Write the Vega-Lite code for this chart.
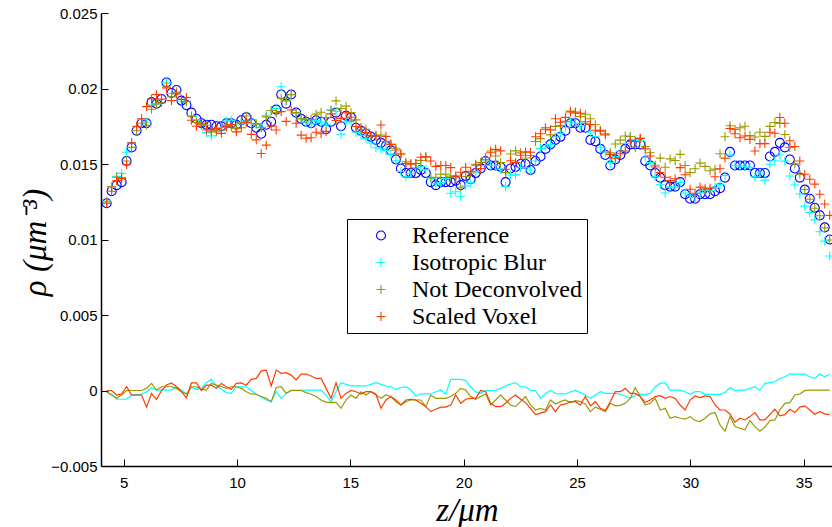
{
  "$schema": "https://vega.github.io/schema/vega-lite/v6.json",
  "width": 731,
  "height": 453,
  "autosize": {"type": "none"},
  "padding": {"left": 101, "top": 13, "right": 0, "bottom": 61},
  "background": "white",
  "config": {
    "view": {"stroke": null},
    "axis": {
      "grid": false,
      "domainColor": "black",
      "domainWidth": 1.5,
      "tickColor": "black",
      "tickWidth": 1,
      "tickSize": -7,
      "labelFont": "Liberation Sans",
      "labelFontSize": 15,
      "labelColor": "black",
      "titleFont": "Liberation Serif",
      "titleFontSize": 33,
      "titleFontStyle": "italic",
      "titleFontWeight": "normal",
      "titleColor": "black"
    },
    "legend": {
      "labelFont": "Liberation Serif",
      "labelFontSize": 24,
      "labelColor": "black",
      "labelLimit": 400,
      "padding": 4.5,
      "rowPadding": 3,
      "strokeColor": "black",
      "fillColor": "white",
      "symbolSize": 81,
      "symbolStrokeWidth": 1.1,
      "symbolOffset": 17.5,
      "labelOffset": 19
    }
  },
  "data": {"values": [
    {"z":4.25,"ref":0.0124,"iso":0.01254,"nd":0.01248,"sv":0.0124,"dIso":-0.00014,"dNd":-0.00008,"dSv":0},
    {"z":4.47,"ref":0.0132,"iso":0.01345,"nd":0.0135,"sv":0.0132,"dIso":-0.00025,"dNd":-0.0003,"dSv":0},
    {"z":4.69,"ref":0.0136,"iso":0.01418,"nd":0.01412,"sv":0.0139,"dIso":-0.00058,"dNd":-0.00052,"dSv":-0.0003},
    {"z":4.91,"ref":0.0138,"iso":0.01438,"nd":0.0141,"sv":0.01403,"dIso":-0.00058,"dNd":-0.0003,"dSv":-0.00023},
    {"z":5.13,"ref":0.0152,"iso":0.01578,"nd":0.0152,"sv":0.01495,"dIso":-0.00058,"dNd":0,"dSv":0.00025},
    {"z":5.35,"ref":0.0161,"iso":0.0164,"nd":0.0161,"sv":0.0164,"dIso":-0.0003,"dNd":0,"dSv":-0.0003},
    {"z":5.57,"ref":0.0172,"iso":0.01745,"nd":0.0172,"sv":0.0175,"dIso":-0.00025,"dNd":0,"dSv":-0.0003},
    {"z":5.79,"ref":0.0177,"iso":0.01795,"nd":0.0177,"sv":0.018,"dIso":-0.00025,"dNd":0,"dSv":-0.0003},
    {"z":6.01,"ref":0.0177,"iso":0.01778,"nd":0.01756,"sv":0.0188,"dIso":-0.00008,"dNd":0.00014,"dSv":-0.0011},
    {"z":6.23,"ref":0.0191,"iso":0.0189,"nd":0.01863,"sv":0.0193,"dIso":0.0002,"dNd":0.00047,"dSv":-0.0002},
    {"z":6.45,"ref":0.019,"iso":0.01897,"nd":0.01897,"sv":0.0196,"dIso":0.00003,"dNd":0.00003,"dSv":-0.0006},
    {"z":6.67,"ref":0.0193,"iso":0.01927,"nd":0.01905,"sv":0.0193,"dIso":0.00003,"dNd":0.00025,"dSv":0},
    {"z":6.89,"ref":0.0204,"iso":0.02037,"nd":0.02015,"sv":0.02004,"dIso":0.00003,"dNd":0.00025,"dSv":0.00036},
    {"z":7.11,"ref":0.0197,"iso":0.01967,"nd":0.01945,"sv":0.0192,"dIso":0.00003,"dNd":0.00025,"dSv":0.0005},
    {"z":7.33,"ref":0.0199,"iso":0.01965,"nd":0.01976,"sv":0.01965,"dIso":0.00025,"dNd":0.00014,"dSv":0.00025},
    {"z":7.55,"ref":0.0192,"iso":0.01917,"nd":0.01928,"sv":0.01928,"dIso":0.00003,"dNd":-0.00008,"dSv":-0.00008},
    {"z":7.77,"ref":0.0189,"iso":0.01913,"nd":0.01913,"sv":0.0194,"dIso":-0.00023,"dNd":-0.00023,"dSv":-0.0005},
    {"z":7.99,"ref":0.0184,"iso":0.0182,"nd":0.01815,"sv":0.0179,"dIso":0.0002,"dNd":0.00025,"dSv":0.0005},
    {"z":8.21,"ref":0.018,"iso":0.01792,"nd":0.01775,"sv":0.0175,"dIso":0.00008,"dNd":0.00025,"dSv":0.0005},
    {"z":8.43,"ref":0.0177,"iso":0.01756,"nd":0.01762,"sv":0.0177,"dIso":0.00014,"dNd":0.00008,"dSv":0},
    {"z":8.65,"ref":0.0176,"iso":0.01708,"nd":0.01757,"sv":0.01725,"dIso":0.00052,"dNd":0.00003,"dSv":0.00035},
    {"z":8.87,"ref":0.0176,"iso":0.01686,"nd":0.01713,"sv":0.01725,"dIso":0.00074,"dNd":0.00047,"dSv":0.00035},
    {"z":9.09,"ref":0.0175,"iso":0.0172,"nd":0.01714,"sv":0.01735,"dIso":0.0003,"dNd":0.00036,"dSv":0.00015},
    {"z":9.31,"ref":0.0175,"iso":0.01742,"nd":0.01725,"sv":0.01703,"dIso":0.00008,"dNd":0.00025,"dSv":0.00047},
    {"z":9.53,"ref":0.0177,"iso":0.01784,"nd":0.01756,"sv":0.01745,"dIso":-0.00014,"dNd":0.00014,"dSv":0.00025},
    {"z":9.75,"ref":0.0177,"iso":0.01789,"nd":0.01745,"sv":0.01762,"dIso":-0.00019,"dNd":0.00025,"dSv":0.00008},
    {"z":9.97,"ref":0.0176,"iso":0.01735,"nd":0.01735,"sv":0.01713,"dIso":0.00025,"dNd":0.00025,"dSv":0.00047},
    {"z":10.19,"ref":0.0179,"iso":0.01765,"nd":0.01776,"sv":0.0174,"dIso":0.00025,"dNd":0.00014,"dSv":0.0005},
    {"z":10.41,"ref":0.0181,"iso":0.01785,"nd":0.01818,"sv":0.01775,"dIso":0.00025,"dNd":-0.00008,"dSv":0.00035},
    {"z":10.63,"ref":0.0177,"iso":0.0177,"nd":0.01793,"sv":0.01696,"dIso":0,"dNd":-0.00023,"dSv":0.00074},
    {"z":10.85,"ref":0.0174,"iso":0.01765,"nd":0.01765,"sv":0.0166,"dIso":-0.00025,"dNd":-0.00025,"dSv":0.0008},
    {"z":11.07,"ref":0.017,"iso":0.01745,"nd":0.0174,"sv":0.0157,"dIso":-0.00045,"dNd":-0.0004,"dSv":0.0013},
    {"z":11.29,"ref":0.0176,"iso":0.01823,"nd":0.01812,"sv":0.01625,"dIso":-0.00063,"dNd":-0.00052,"dSv":0.00135},
    {"z":11.51,"ref":0.0178,"iso":0.01854,"nd":0.01854,"sv":0.0175,"dIso":-0.00074,"dNd":-0.00074,"dSv":0.0003},
    {"z":11.73,"ref":0.0186,"iso":0.01868,"nd":0.0184,"sv":0.01725,"dIso":-0.00008,"dNd":0.0002,"dSv":0.00135},
    {"z":11.95,"ref":0.0196,"iso":0.02012,"nd":0.01935,"sv":0.01847,"dIso":-0.00052,"dNd":0.00025,"dSv":0.00113},
    {"z":12.17,"ref":0.019,"iso":0.01919,"nd":0.01919,"sv":0.01782,"dIso":-0.00019,"dNd":-0.00019,"dSv":0.00118},
    {"z":12.39,"ref":0.0196,"iso":0.01957,"nd":0.0196,"sv":0.01858,"dIso":0.00003,"dNd":0,"dSv":0.00102},
    {"z":12.61,"ref":0.0184,"iso":0.01837,"nd":0.0184,"sv":0.0177,"dIso":0.00003,"dNd":0,"dSv":0.0007},
    {"z":12.83,"ref":0.018,"iso":0.01797,"nd":0.018,"sv":0.01691,"dIso":0.00003,"dNd":0,"dSv":0.00109},
    {"z":13.05,"ref":0.0178,"iso":0.01777,"nd":0.01794,"sv":0.01671,"dIso":0.00003,"dNd":-0.00014,"dSv":0.00109},
    {"z":13.27,"ref":0.0177,"iso":0.01767,"nd":0.01795,"sv":0.01674,"dIso":0.00003,"dNd":-0.00025,"dSv":0.00096},
    {"z":13.49,"ref":0.0179,"iso":0.01787,"nd":0.0183,"sv":0.0171,"dIso":0.00003,"dNd":-0.0004,"dSv":0.0008},
    {"z":13.71,"ref":0.0178,"iso":0.01777,"nd":0.01843,"sv":0.017,"dIso":0.00003,"dNd":-0.00063,"dSv":0.0008},
    {"z":13.93,"ref":0.0173,"iso":0.0176,"nd":0.01808,"sv":0.01716,"dIso":-0.0003,"dNd":-0.00078,"dSv":0.00014},
    {"z":14.15,"ref":0.0178,"iso":0.01854,"nd":0.01858,"sv":0.01832,"dIso":-0.00074,"dNd":-0.00078,"dSv":-0.00052},
    {"z":14.37,"ref":0.0184,"iso":0.01848,"nd":0.01918,"sv":0.01788,"dIso":-0.00008,"dNd":-0.00078,"dSv":0.00052},
    {"z":14.59,"ref":0.0175,"iso":0.01698,"nd":0.01868,"sv":0.01802,"dIso":0.00052,"dNd":-0.00118,"dSv":-0.00052},
    {"z":14.81,"ref":0.0182,"iso":0.01779,"nd":0.01883,"sv":0.01839,"dIso":0.00041,"dNd":-0.00063,"dSv":-0.00019},
    {"z":15.03,"ref":0.0181,"iso":0.0178,"nd":0.0184,"sv":0.0181,"dIso":0.0003,"dNd":-0.0003,"dSv":0},
    {"z":15.25,"ref":0.0174,"iso":0.0171,"nd":0.01792,"sv":0.01748,"dIso":0.0003,"dNd":-0.00052,"dSv":-0.00008},
    {"z":15.47,"ref":0.0172,"iso":0.0169,"nd":0.01728,"sv":0.01743,"dIso":0.0003,"dNd":-0.00008,"dSv":-0.00023},
    {"z":15.69,"ref":0.017,"iso":0.0167,"nd":0.0173,"sv":0.01708,"dIso":0.0003,"dNd":-0.0003,"dSv":-0.00008},
    {"z":15.91,"ref":0.0168,"iso":0.01639,"nd":0.01688,"sv":0.01688,"dIso":0.00041,"dNd":-0.00008,"dSv":-0.00008},
    {"z":16.13,"ref":0.0166,"iso":0.01608,"nd":0.0169,"sv":0.01685,"dIso":0.00052,"dNd":-0.0003,"dSv":-0.00025},
    {"z":16.35,"ref":0.0164,"iso":0.01599,"nd":0.01692,"sv":0.01758,"dIso":0.00041,"dNd":-0.00052,"dSv":-0.00118},
    {"z":16.57,"ref":0.0162,"iso":0.0159,"nd":0.0165,"sv":0.01683,"dIso":0.0003,"dNd":-0.0003,"dSv":-0.00063},
    {"z":16.79,"ref":0.0159,"iso":0.01565,"nd":0.0163,"sv":0.0163,"dIso":0.00025,"dNd":-0.0004,"dSv":-0.0004},
    {"z":17.01,"ref":0.0153,"iso":0.01522,"nd":0.01604,"sv":0.01593,"dIso":0.00008,"dNd":-0.00074,"dSv":-0.00063},
    {"z":17.23,"ref":0.0147,"iso":0.0145,"nd":0.01566,"sv":0.01566,"dIso":0.0002,"dNd":-0.00096,"dSv":-0.00096},
    {"z":17.45,"ref":0.0144,"iso":0.01415,"nd":0.01514,"sv":0.01503,"dIso":0.00025,"dNd":-0.00074,"dSv":-0.00063},
    {"z":17.67,"ref":0.0144,"iso":0.01437,"nd":0.01503,"sv":0.01498,"dIso":0.00003,"dNd":-0.00063,"dSv":-0.00058},
    {"z":17.89,"ref":0.0144,"iso":0.01476,"nd":0.01503,"sv":0.01503,"dIso":-0.00036,"dNd":-0.00063,"dSv":-0.00063},
    {"z":18.11,"ref":0.0146,"iso":0.01483,"nd":0.01523,"sv":0.01545,"dIso":-0.00023,"dNd":-0.00063,"dSv":-0.00085},
    {"z":18.33,"ref":0.0144,"iso":0.01463,"nd":0.01547,"sv":0.01547,"dIso":-0.00023,"dNd":-0.00107,"dSv":-0.00107},
    {"z":18.55,"ref":0.0138,"iso":0.01403,"nd":0.0141,"sv":0.0152,"dIso":-0.00023,"dNd":-0.0003,"dSv":-0.0014},
    {"z":18.77,"ref":0.0136,"iso":0.01368,"nd":0.01412,"sv":0.01484,"dIso":-0.00008,"dNd":-0.00052,"dSv":-0.00124},
    {"z":18.99,"ref":0.0138,"iso":0.01377,"nd":0.01432,"sv":0.0149,"dIso":0.00003,"dNd":-0.00052,"dSv":-0.0011},
    {"z":19.21,"ref":0.0138,"iso":0.01405,"nd":0.01432,"sv":0.0149,"dIso":-0.00025,"dNd":-0.00052,"dSv":-0.0011},
    {"z":19.43,"ref":0.0138,"iso":0.01306,"nd":0.0142,"sv":0.01476,"dIso":0.00074,"dNd":-0.0004,"dSv":-0.00096},
    {"z":19.65,"ref":0.0139,"iso":0.01316,"nd":0.01409,"sv":0.0142,"dIso":0.00074,"dNd":-0.00019,"dSv":-0.0003},
    {"z":19.87,"ref":0.0136,"iso":0.01286,"nd":0.01346,"sv":0.01445,"dIso":0.00074,"dNd":0.00014,"dSv":-0.00085},
    {"z":20.09,"ref":0.0142,"iso":0.01355,"nd":0.01417,"sv":0.01478,"dIso":0.00065,"dNd":0.00003,"dSv":-0.00058},
    {"z":20.31,"ref":0.014,"iso":0.01375,"nd":0.0144,"sv":0.01452,"dIso":0.00025,"dNd":-0.0004,"dSv":-0.00052},
    {"z":20.53,"ref":0.0144,"iso":0.01448,"nd":0.01498,"sv":0.01492,"dIso":-0.00008,"dNd":-0.00058,"dSv":-0.00052},
    {"z":20.75,"ref":0.0147,"iso":0.01489,"nd":0.0151,"sv":0.0147,"dIso":-0.00019,"dNd":-0.0004,"dSv":0},
    {"z":20.97,"ref":0.0152,"iso":0.0152,"nd":0.01543,"sv":0.01528,"dIso":0,"dNd":-0.00023,"dSv":-0.00008},
    {"z":21.19,"ref":0.0149,"iso":0.0149,"nd":0.01586,"sv":0.01575,"dIso":0,"dNd":-0.00096,"dSv":-0.00085},
    {"z":21.41,"ref":0.0149,"iso":0.0149,"nd":0.01553,"sv":0.01597,"dIso":0,"dNd":-0.00063,"dSv":-0.00107},
    {"z":21.63,"ref":0.0148,"iso":0.01466,"nd":0.0151,"sv":0.01587,"dIso":0.00014,"dNd":-0.0003,"dSv":-0.00107},
    {"z":21.85,"ref":0.0138,"iso":0.0135,"nd":0.01443,"sv":0.01465,"dIso":0.0003,"dNd":-0.00063,"dSv":-0.00085},
    {"z":22.07,"ref":0.0147,"iso":0.01427,"nd":0.01566,"sv":0.01522,"dIso":0.00043,"dNd":-0.00096,"dSv":-0.00052},
    {"z":22.29,"ref":0.0148,"iso":0.01428,"nd":0.01587,"sv":0.0151,"dIso":0.00052,"dNd":-0.00107,"dSv":-0.0003},
    {"z":22.51,"ref":0.015,"iso":0.01475,"nd":0.01574,"sv":0.01558,"dIso":0.00025,"dNd":-0.00074,"dSv":-0.00058},
    {"z":22.73,"ref":0.015,"iso":0.01475,"nd":0.0154,"sv":0.0158,"dIso":0.00025,"dNd":-0.0004,"dSv":-0.0008},
    {"z":22.95,"ref":0.0146,"iso":0.0146,"nd":0.01556,"sv":0.01578,"dIso":0,"dNd":-0.00096,"dSv":-0.00118},
    {"z":23.17,"ref":0.0152,"iso":0.0152,"nd":0.01649,"sv":0.0168,"dIso":0,"dNd":-0.00129,"dSv":-0.0016},
    {"z":23.39,"ref":0.0155,"iso":0.01602,"nd":0.01668,"sv":0.017,"dIso":-0.00052,"dNd":-0.00118,"dSv":-0.0015},
    {"z":23.61,"ref":0.016,"iso":0.01619,"nd":0.01729,"sv":0.0174,"dIso":-0.00019,"dNd":-0.00129,"dSv":-0.0014},
    {"z":23.83,"ref":0.0163,"iso":0.0163,"nd":0.01693,"sv":0.01726,"dIso":0,"dNd":-0.00063,"dSv":-0.00096},
    {"z":24.05,"ref":0.0166,"iso":0.01679,"nd":0.01749,"sv":0.018,"dIso":-0.00019,"dNd":-0.00089,"dSv":-0.0014},
    {"z":24.27,"ref":0.0168,"iso":0.01703,"nd":0.01754,"sv":0.01776,"dIso":-0.00023,"dNd":-0.00074,"dSv":-0.00096},
    {"z":24.49,"ref":0.0172,"iso":0.01743,"nd":0.01783,"sv":0.01809,"dIso":-0.00023,"dNd":-0.00063,"dSv":-0.00089},
    {"z":24.71,"ref":0.0177,"iso":0.01778,"nd":0.0185,"sv":0.01844,"dIso":-0.00008,"dNd":-0.0008,"dSv":-0.00074},
    {"z":24.93,"ref":0.0177,"iso":0.0177,"nd":0.01837,"sv":0.01844,"dIso":0,"dNd":-0.00067,"dSv":-0.00074},
    {"z":25.15,"ref":0.0174,"iso":0.01754,"nd":0.01814,"sv":0.01836,"dIso":-0.00014,"dNd":-0.00074,"dSv":-0.00096},
    {"z":25.37,"ref":0.0174,"iso":0.0177,"nd":0.01829,"sv":0.0178,"dIso":-0.0003,"dNd":-0.00089,"dSv":-0.0004},
    {"z":25.59,"ref":0.0166,"iso":0.01712,"nd":0.018,"sv":0.01762,"dIso":-0.00052,"dNd":-0.0014,"dSv":-0.00102},
    {"z":25.81,"ref":0.0165,"iso":0.0168,"nd":0.0176,"sv":0.01724,"dIso":-0.0003,"dNd":-0.0011,"dSv":-0.00074},
    {"z":26.03,"ref":0.016,"iso":0.01608,"nd":0.01724,"sv":0.01718,"dIso":-0.00008,"dNd":-0.00124,"dSv":-0.00118},
    {"z":26.25,"ref":0.0156,"iso":0.01579,"nd":0.017,"sv":0.01693,"dIso":-0.00019,"dNd":-0.0014,"dSv":-0.00133},
    {"z":26.47,"ref":0.0149,"iso":0.01509,"nd":0.01575,"sv":0.01564,"dIso":-0.00019,"dNd":-0.00085,"dSv":-0.00074},
    {"z":26.69,"ref":0.0153,"iso":0.01549,"nd":0.01632,"sv":0.01538,"dIso":-0.00019,"dNd":-0.00102,"dSv":-0.00008},
    {"z":26.91,"ref":0.0156,"iso":0.01585,"nd":0.01658,"sv":0.01568,"dIso":-0.00025,"dNd":-0.00098,"dSv":-0.00008},
    {"z":27.13,"ref":0.016,"iso":0.01636,"nd":0.01685,"sv":0.01586,"dIso":-0.00036,"dNd":-0.00085,"dSv":0.00014},
    {"z":27.35,"ref":0.0163,"iso":0.01682,"nd":0.01682,"sv":0.01649,"dIso":-0.00052,"dNd":-0.00052,"dSv":-0.00019},
    {"z":27.57,"ref":0.0163,"iso":0.0166,"nd":0.0161,"sv":0.01649,"dIso":-0.0003,"dNd":0.0002,"dSv":-0.00019},
    {"z":27.79,"ref":0.0163,"iso":0.01655,"nd":0.0167,"sv":0.0167,"dIso":-0.00025,"dNd":-0.0004,"dSv":-0.0004},
    {"z":28.01,"ref":0.0152,"iso":0.01545,"nd":0.01616,"sv":0.016,"dIso":-0.00025,"dNd":-0.00096,"dSv":-0.0008},
    {"z":28.23,"ref":0.0149,"iso":0.01509,"nd":0.01575,"sv":0.01553,"dIso":-0.00019,"dNd":-0.00085,"dSv":-0.00063},
    {"z":28.45,"ref":0.0144,"iso":0.01415,"nd":0.01492,"sv":0.0148,"dIso":0.00025,"dNd":-0.00052,"dSv":-0.0004},
    {"z":28.67,"ref":0.0141,"iso":0.01363,"nd":0.01539,"sv":0.01444,"dIso":0.00047,"dNd":-0.00129,"dSv":-0.00034},
    {"z":28.89,"ref":0.0136,"iso":0.01308,"nd":0.01478,"sv":0.01412,"dIso":0.00052,"dNd":-0.00118,"dSv":-0.00052},
    {"z":29.11,"ref":0.0135,"iso":0.01347,"nd":0.01534,"sv":0.0139,"dIso":0.00003,"dNd":-0.00184,"dSv":-0.0004},
    {"z":29.33,"ref":0.0135,"iso":0.01347,"nd":0.01523,"sv":0.01402,"dIso":0.00003,"dNd":-0.00173,"dSv":-0.00052},
    {"z":29.55,"ref":0.0138,"iso":0.01377,"nd":0.01564,"sv":0.01476,"dIso":0.00003,"dNd":-0.00184,"dSv":-0.00096},
    {"z":29.77,"ref":0.013,"iso":0.01308,"nd":0.0149,"sv":0.01429,"dIso":-0.00008,"dNd":-0.0019,"dSv":-0.00129},
    {"z":29.99,"ref":0.0127,"iso":0.01295,"nd":0.01443,"sv":0.01333,"dIso":-0.00025,"dNd":-0.00173,"dSv":-0.00063},
    {"z":30.21,"ref":0.0127,"iso":0.01278,"nd":0.01469,"sv":0.01306,"dIso":-0.00008,"dNd":-0.00199,"dSv":-0.00036},
    {"z":30.43,"ref":0.013,"iso":0.01308,"nd":0.01506,"sv":0.01347,"dIso":-0.00008,"dNd":-0.00206,"dSv":-0.00047},
    {"z":30.65,"ref":0.013,"iso":0.01325,"nd":0.01484,"sv":0.01336,"dIso":-0.00025,"dNd":-0.00184,"dSv":-0.00036},
    {"z":30.87,"ref":0.013,"iso":0.01325,"nd":0.01455,"sv":0.0134,"dIso":-0.00025,"dNd":-0.00155,"dSv":-0.0004},
    {"z":31.09,"ref":0.0132,"iso":0.01345,"nd":0.01466,"sv":0.01416,"dIso":-0.00025,"dNd":-0.00146,"dSv":-0.00096},
    {"z":31.31,"ref":0.0134,"iso":0.01365,"nd":0.01568,"sv":0.01469,"dIso":-0.00025,"dNd":-0.00228,"dSv":-0.00129},
    {"z":31.53,"ref":0.0141,"iso":0.01424,"nd":0.0168,"sv":0.01539,"dIso":-0.00014,"dNd":-0.0027,"dSv":-0.00129},
    {"z":31.75,"ref":0.0158,"iso":0.0156,"nd":0.01753,"sv":0.01735,"dIso":0.0002,"dNd":-0.00173,"dSv":-0.00155},
    {"z":31.97,"ref":0.0149,"iso":0.0149,"nd":0.01729,"sv":0.017,"dIso":0,"dNd":-0.00239,"dSv":-0.0021},
    {"z":32.19,"ref":0.0149,"iso":0.01487,"nd":0.0174,"sv":0.01674,"dIso":0.00003,"dNd":-0.0025,"dSv":-0.00184},
    {"z":32.41,"ref":0.0149,"iso":0.01487,"nd":0.0175,"sv":0.01685,"dIso":0.00003,"dNd":-0.0026,"dSv":-0.00195},
    {"z":32.63,"ref":0.0149,"iso":0.01476,"nd":0.01689,"sv":0.01663,"dIso":0.00014,"dNd":-0.00199,"dSv":-0.00173},
    {"z":32.85,"ref":0.0144,"iso":0.01415,"nd":0.01679,"sv":0.01586,"dIso":0.00025,"dNd":-0.00239,"dSv":-0.00146},
    {"z":33.07,"ref":0.0144,"iso":0.0144,"nd":0.0171,"sv":0.01635,"dIso":0,"dNd":-0.0027,"dSv":-0.00195},
    {"z":33.29,"ref":0.0144,"iso":0.01393,"nd":0.01683,"sv":0.01635,"dIso":0.00047,"dNd":-0.00243,"dSv":-0.00195},
    {"z":33.51,"ref":0.0155,"iso":0.01498,"nd":0.01749,"sv":0.0171,"dIso":0.00052,"dNd":-0.00199,"dSv":-0.0016},
    {"z":33.73,"ref":0.0158,"iso":0.01522,"nd":0.01775,"sv":0.01704,"dIso":0.00058,"dNd":-0.00195,"dSv":-0.00124},
    {"z":33.95,"ref":0.0164,"iso":0.0156,"nd":0.01769,"sv":0.01808,"dIso":0.0008,"dNd":-0.00129,"dSv":-0.00168},
    {"z":34.17,"ref":0.0161,"iso":0.01519,"nd":0.01695,"sv":0.0177,"dIso":0.00091,"dNd":-0.00085,"dSv":-0.0016},
    {"z":34.39,"ref":0.0153,"iso":0.01421,"nd":0.0161,"sv":0.01654,"dIso":0.00109,"dNd":-0.0008,"dSv":-0.00124},
    {"z":34.61,"ref":0.0147,"iso":0.01361,"nd":0.015,"sv":0.01616,"dIso":0.00109,"dNd":-0.0003,"dSv":-0.00146},
    {"z":34.83,"ref":0.0141,"iso":0.01301,"nd":0.01433,"sv":0.0152,"dIso":0.00109,"dNd":-0.00023,"dSv":-0.0011},
    {"z":35.05,"ref":0.0133,"iso":0.01221,"nd":0.01331,"sv":0.01432,"dIso":0.00109,"dNd":-0.00001,"dSv":-0.00102},
    {"z":35.27,"ref":0.0127,"iso":0.01179,"nd":0.01267,"sv":0.01399,"dIso":0.00091,"dNd":0.00003,"dSv":-0.00129},
    {"z":35.49,"ref":0.0121,"iso":0.0113,"nd":0.01207,"sv":0.01367,"dIso":0.0008,"dNd":0.00003,"dSv":-0.00157},
    {"z":35.71,"ref":0.0116,"iso":0.01051,"nd":0.01157,"sv":0.013,"dIso":0.00109,"dNd":0.00003,"dSv":-0.0014},
    {"z":35.93,"ref":0.0108,"iso":0.00989,"nd":0.01077,"sv":0.01235,"dIso":0.00091,"dNd":0.00003,"dSv":-0.00155},
    {"z":36.15,"ref":0.01,"iso":0.00891,"nd":0.00997,"sv":0.0116,"dIso":0.00109,"dNd":0.00003,"dSv":-0.0016}
  ]},
  "encoding": {
    "x": {
      "field": "z",
      "type": "quantitative",
      "title": "z/μm",
      "scale": {"domain": [4, 36.25], "nice": false, "zero": false},
      "axis": {
        "values": [5, 10, 15, 20, 25, 30, 35],
        "format": "d",
        "labelPadding": 16,
        "titleX": 366,
        "titleY": 44,
        "titleAlign": "center",
        "titleBaseline": "middle"
      }
    }
  },
  "layer": [
    {
      "mark": {"type": "line", "color": "#00ffff", "strokeWidth": 1.2},
      "encoding": {
        "y": {
          "field": "dIso",
          "type": "quantitative",
          "title": "ρ (μm⁻³)",
          "scale": {"domain": [-0.005, 0.025], "nice": false, "zero": false},
          "axis": {
            "values": [-0.005, 0, 0.005, 0.01, 0.015, 0.02, 0.025],
            "format": "~g",
            "labelPadding": 11,
            "titleX": -66,
            "titleY": 229,
            "titleAngle": -90,
            "titleAlign": "center",
            "titleBaseline": "middle"
          }
        }
      }
    },
    {
      "mark": {"type": "line", "color": "#9a9a00", "strokeWidth": 1.2},
      "encoding": {"y": {"field": "dNd", "type": "quantitative", "title": "ρ (μm⁻³)"}}
    },
    {
      "mark": {"type": "line", "color": "#ff3c00", "strokeWidth": 1.2},
      "encoding": {"y": {"field": "dSv", "type": "quantitative", "title": "ρ (μm⁻³)"}}
    },
    {
      "mark": {"type": "point", "filled": false, "size": 81, "strokeWidth": 1.1, "opacity": 1},
      "encoding": {
        "y": {"field": "ref", "type": "quantitative", "title": "ρ (μm⁻³)"},
        "color": {
          "datum": "Reference",
          "scale": {
            "domain": ["Reference", "Isotropic Blur", "Not Deconvolved", "Scaled Voxel"],
            "range": ["#0000ff", "#00ffff", "#9a9a00", "#ff3c00"]
          },
          "legend": {"orient": "none", "legendX": 246, "legendY": 206, "title": null}
        },
        "shape": {
          "datum": "Reference",
          "scale": {
            "domain": ["Reference", "Isotropic Blur", "Not Deconvolved", "Scaled Voxel"],
            "range": ["circle", "M-1,0L1,0M0,-1L0,1", "M-1,0L1,0M0,-1L0,1", "M-1,0L1,0M0,-1L0,1"]
          },
          "legend": {"orient": "none", "legendX": 246, "legendY": 206, "title": null}
        }
      }
    },
    {
      "mark": {"type": "point", "filled": false, "size": 81, "strokeWidth": 1.1, "opacity": 1},
      "encoding": {
        "y": {"field": "iso", "type": "quantitative", "title": "ρ (μm⁻³)"},
        "color": {"datum": "Isotropic Blur"},
        "shape": {"datum": "Isotropic Blur"}
      }
    },
    {
      "mark": {"type": "point", "filled": false, "size": 81, "strokeWidth": 1.1, "opacity": 1},
      "encoding": {
        "y": {"field": "nd", "type": "quantitative", "title": "ρ (μm⁻³)"},
        "color": {"datum": "Not Deconvolved"},
        "shape": {"datum": "Not Deconvolved"}
      }
    },
    {
      "mark": {"type": "point", "filled": false, "size": 81, "strokeWidth": 1.1, "opacity": 1},
      "encoding": {
        "y": {"field": "sv", "type": "quantitative", "title": "ρ (μm⁻³)"},
        "color": {"datum": "Scaled Voxel"},
        "shape": {"datum": "Scaled Voxel"}
      }
    }
  ]
}
